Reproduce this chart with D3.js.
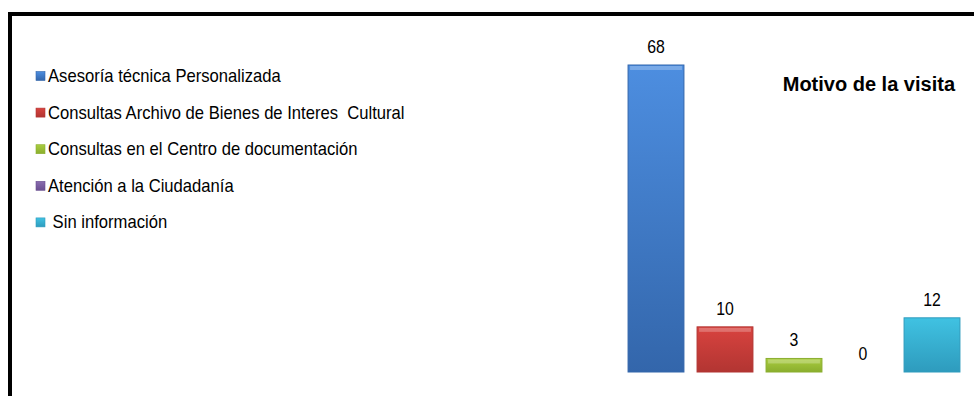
<!DOCTYPE html>
<html lang="es">
<head>
  <meta charset="UTF-8">
  <script src="https://d3js.org/d3.v7.min.js"></script>
  <title>Motivo de la visita</title>
  <style>
    body { margin: 0; background: #fff; }
    text { font-family: "Liberation Sans", Arial, sans-serif; }
  </style>
</head>
<body>
  <div id="wrapper"></div>
  <script>
    const categories = [
      "Asesoría técnica Personalizada",
      "Consultas Archivo de Bienes de Interes  Cultural",
      "Consultas en el Centro de documentación",
      "Atención a la Ciudadanía",
      " Sin información"
    ]
    const values = [68, 10, 3, 0, 12]
    const topColors = ["#4d8ee0", "#d8433f", "#a9cc3f", "#8a6db0", "#40c2e2"]
    const bottomColors = ["#3366ab", "#b23532", "#8aae2e", "#6a4f90", "#2e9bbd"]
    const title = "Motivo de la visita"

    const dims = { width: 974, height: 396 }
    const narrow = 0.88   // the original font is a condensed face

    const svg = d3.select("#wrapper")
        .append("svg")
        .attr("width", dims.width)
        .attr("height", dims.height)

    // frame (only top and left edges show in the crop)
    svg.append("rect")
        .attr("x", 10).attr("y", 14)
        .attr("width", 1000).attr("height", 420)
        .attr("fill", "none")
        .attr("stroke", "#000")
        .attr("stroke-width", 4)

    const defs = svg.append("defs")
    categories.forEach((c, i) => {
      const g = defs.append("linearGradient")
          .attr("id", "grad" + i)
          .attr("x1", 0).attr("y1", 0).attr("x2", 0).attr("y2", 1)
      g.append("stop").attr("offset", "0%").attr("stop-color", topColors[i])
      g.append("stop").attr("offset", "100%").attr("stop-color", bottomColors[i])
    })

    const xScale = d3.scaleBand()
        .domain(categories)
        .range([621.5, 966.5])
        .paddingInner(0.19)
        .paddingOuter(0.095)

    const yScale = d3.scaleLinear()
        .domain([0, 68])
        .range([372, 65])

    const bars = svg.append("g")
      .selectAll("g")
      .data(categories)
      .enter()
      .append("g")

    bars.append("rect")
        .attr("x", d => xScale(d))
        .attr("y", (d, i) => yScale(values[i]))
        .attr("width", xScale.bandwidth())
        .attr("height", (d, i) => yScale(0) - yScale(values[i]))
        .attr("fill", (d, i) => `url(#grad${i})`)
        .attr("stroke", (d, i) => bottomColors[i])
        .attr("stroke-width", 1)

    // bevel highlight at top
    bars.filter((d, i) => values[i] > 0)
      .append("rect")
        .attr("x", d => xScale(d) + 2)
        .attr("y", (d, i) => yScale(values[i]) + 1)
        .attr("width", xScale.bandwidth() - 4)
        .attr("height", 4)
        .attr("fill", "#fff")
        .attr("opacity", 0.25)

    bars.append("text")
        .attr("transform", (d, i) =>
          `translate(${xScale(d) + xScale.bandwidth() / 2}, ${yScale(values[i]) - 12}) scale(${narrow}, 1)`)
        .attr("text-anchor", "middle")
        .style("font-size", "18px")
        .attr("fill", "#000")
        .text((d, i) => values[i])

    svg.append("text")
        .attr("x", 955)
        .attr("y", 91)
        .attr("text-anchor", "end")
        .style("font-weight", "bold")
        .style("font-size", "20px")
        .text(title)

    const legend = svg.append("g")
      .selectAll("g")
      .data(categories)
      .enter()
      .append("g")
        .attr("transform", (d, i) => `translate(36, ${75.5 + i * 36.6})`)

    legend.append("rect")
        .attr("x", 0).attr("y", -4)
        .attr("width", 9).attr("height", 9)
        .attr("fill", (d, i) => `url(#grad${i})`)
        .attr("stroke", (d, i) => bottomColors[i])
        .attr("stroke-width", 0.6)

    legend.append("text")
        .attr("transform", `translate(12, 6.5) scale(${narrow * 1.05}, 1)`)
        .style("font-size", "18px")
        .style("white-space", "pre")
        .attr("fill", "#000")
        .text(d => d)
  </script>
</body>
</html>
